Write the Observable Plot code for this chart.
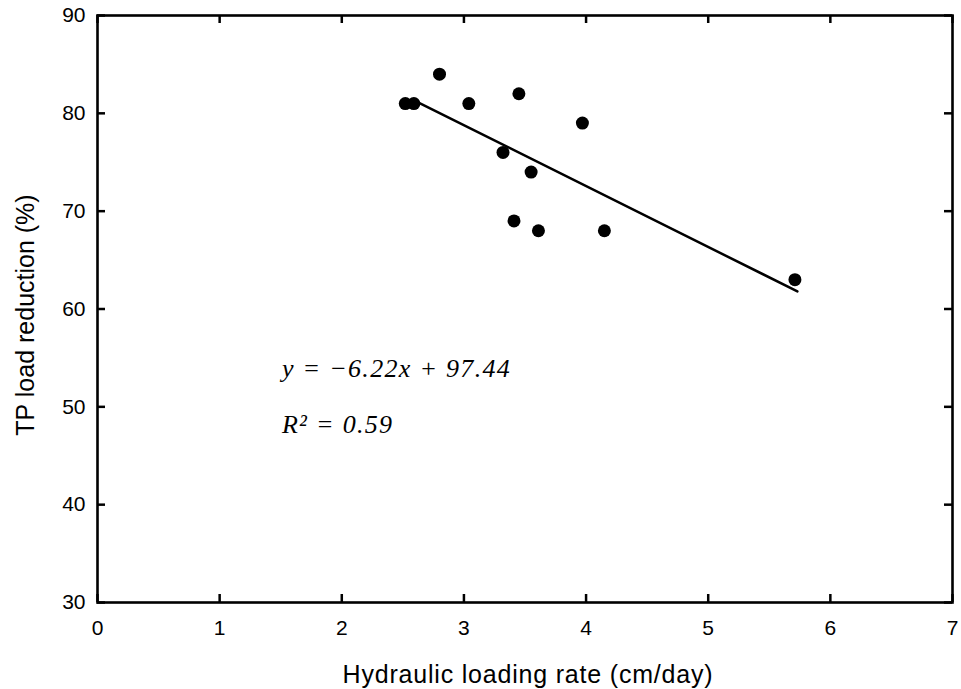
<!DOCTYPE html>
<html>
<head>
<meta charset="utf-8">
<script src="https://cdn.jsdelivr.net/npm/d3@7"></script>
<script src="https://cdn.jsdelivr.net/npm/@observablehq/plot@0.6"></script>
<style>
  html, body { margin: 0; padding: 0; background: #fff; }
  .xtitle text { letter-spacing: 0.8px; }
  .eq text { letter-spacing: 1.3px; }
</style>
</head>
<body>
<div id="chart"></div>
<script>
// Data
const hlr = [2.52, 2.59, 2.80, 3.04, 3.45, 3.97, 3.32, 3.55, 3.41, 3.61, 4.15, 5.71];
const tpReduction = [81, 81, 84, 81, 82, 79, 76, 74, 69, 68, 68, 63];
const slope = -6.22;
const intercept = 97.44;
const r2 = 0.59;
const fitRange = [2.62, 5.73];
const xTickValues = [0, 1, 2, 3, 4, 5, 6, 7];
const yTickValues = [30, 40, 50, 60, 70, 80, 90];
const xTitle = "Hydraulic loading rate (cm/day)";
const yTitle = "TP load reduction (%)";
const eqPos = [1.51, 53.0];
const r2Pos = [1.51, 47.3];

const points = hlr.map((x, i) => ({x, y: tpReduction[i]}));
const fit = fitRange.map(x => ({x, y: slope * x + intercept}));

const W = 961, H = 689;
const mL = 97, mR = 9, mT = 15, mB = 87;
const plotW = W - mL - mR, plotH = H - mT - mB;
const tickLen = 8;
const sans = "'Liberation Sans', Arial, sans-serif";
const serif = "'Liberation Serif', 'Times New Roman', serif";

const chart = Plot.plot({
  width: W,
  height: H,
  marginLeft: mL,
  marginRight: mR,
  marginTop: mT,
  marginBottom: mB,
  style: {fontFamily: sans, fontSize: "21px", color: "#000", background: "#fff", overflow: "visible"},
  x: {domain: [0, 7], ticks: xTickValues, label: null},
  y: {domain: [30, 90], ticks: yTickValues, label: null},
  marks: [
    Plot.axisX({ticks: xTickValues, tickFormat: "d", tickSize: 0, tickPadding: 18, fontSize: 21, label: null}),
    Plot.axisY({ticks: yTickValues, tickFormat: "d", tickSize: 0, tickPadding: 12, fontSize: 21, label: null}),
    // inward ticks on all four sides
    Plot.tickX(xTickValues, {x: d => d, insetTop: plotH - tickLen, stroke: "#000", strokeWidth: 2.5}),
    Plot.tickX(xTickValues, {x: d => d, insetBottom: plotH - tickLen, stroke: "#000", strokeWidth: 2.5}),
    Plot.tickY(yTickValues, {y: d => d, insetRight: plotW - tickLen, stroke: "#000", strokeWidth: 2.5}),
    Plot.tickY(yTickValues, {y: d => d, insetLeft: plotW - tickLen, stroke: "#000", strokeWidth: 2.5}),
    Plot.frame({stroke: "#000", strokeWidth: 2.6}),
    Plot.line(fit, {x: "x", y: "y", stroke: "#000", strokeWidth: 2.5}),
    Plot.dot(points, {x: "x", y: "y", r: 6.5, fill: "#000", stroke: "none"}),
    Plot.text([`y = \u2212${Math.abs(slope).toFixed(2)}x + ${intercept.toFixed(2)}`], {
      x: () => eqPos[0], y: () => eqPos[1], textAnchor: "start", lineAnchor: "bottom",
      fontFamily: serif, fontStyle: "italic", fontSize: 26, fill: "#000", className: "eq"
    }),
    Plot.text([`R\u00B2 = ${r2.toFixed(2)}`], {
      x: () => r2Pos[0], y: () => r2Pos[1], textAnchor: "start", lineAnchor: "bottom",
      fontFamily: serif, fontStyle: "italic", fontSize: 26, fill: "#000", className: "eq"
    }),
    Plot.text([xTitle], {
      frameAnchor: "bottom", dx: 3, dy: 80, lineAnchor: "bottom",
      fontSize: 25, fill: "#000", className: "xtitle"
    }),
    Plot.text([yTitle], {
      frameAnchor: "left", dx: -72, dy: 6, rotate: -90, lineAnchor: "middle", textAnchor: "middle",
      fontSize: 25, fill: "#000"
    })
  ]
});
document.getElementById("chart").appendChild(chart);
</script>
</body>
</html>
